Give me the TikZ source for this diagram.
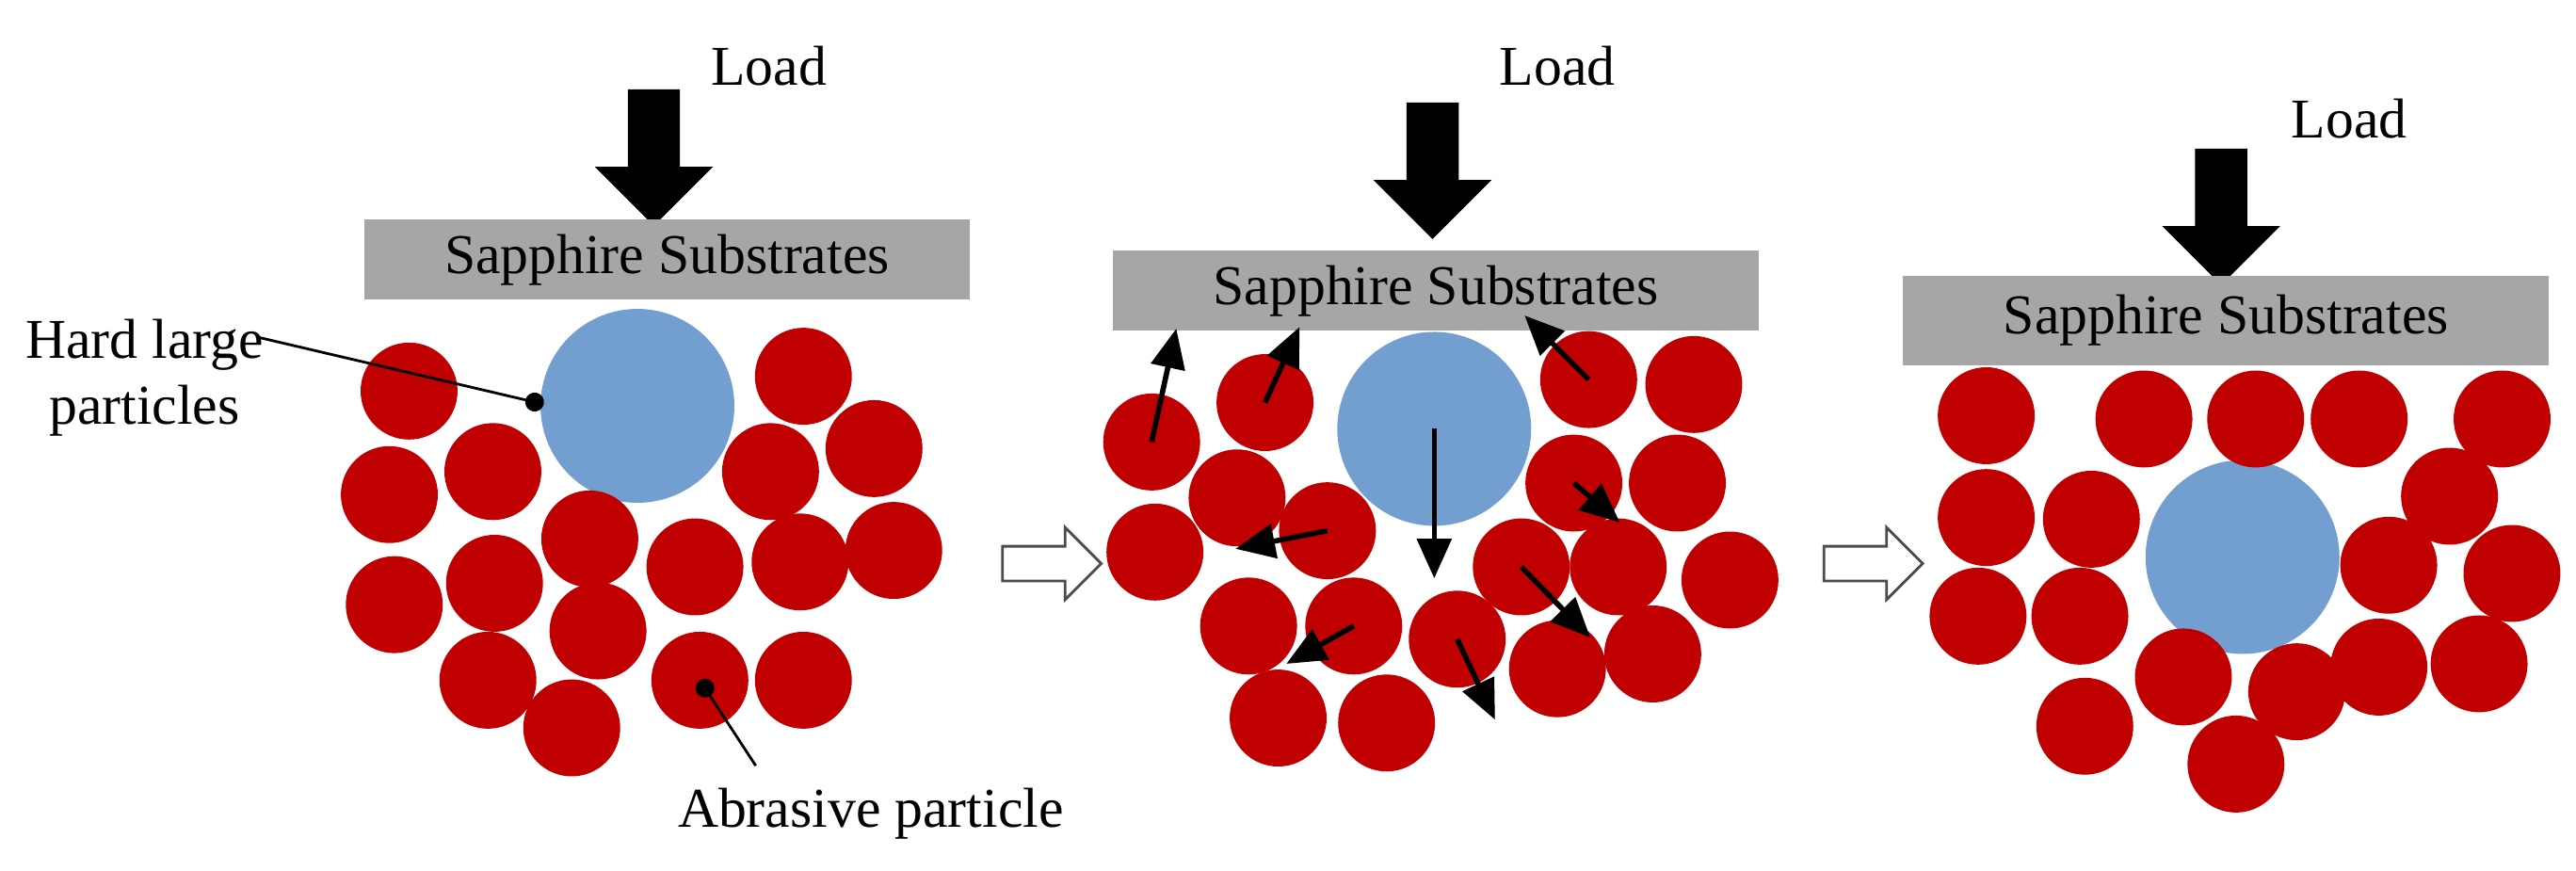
\documentclass[tikz,border=0pt]{standalone}
\usepackage{fontspec}
\setmainfont{Liberation Serif}
\usetikzlibrary{shapes.arrows,arrows.meta}
\begin{document}
\begin{tikzpicture}[x=0.01745cm,y=-0.01745cm]
\tikzstyle{abrasive}=[circle,fill=partred,minimum size=1.03cm,inner sep=0pt]
\tikzstyle{hard}=[circle,fill=partblue,minimum size=2.06cm,inner sep=0pt]
\tikzstyle{substrate}=[fill=boxgray,inner sep=0pt,font=\fontsize{17}{20}\selectfont]
\tikzstyle{load}=[single arrow,fill=black,shape border rotate=270,minimum width=1.22cm,single arrow head extend=0.35cm,minimum height=1.45cm,inner xsep=0.27cm,inner ysep=0pt]
\tikzstyle{stage}=[single arrow,draw=black!70,thick,fill=white,minimum width=0.75cm,single arrow head extend=0.2cm,minimum height=1.05cm,inner xsep=0pt,inner ysep=0.17cm]
\tikzstyle{label}=[font=\fontsize{17}{20}\selectfont,inner sep=0pt]
\tikzstyle{move}=[line width=1.6pt,-{Triangle[length=0.42cm,width=0.36cm]}]
\tikzstyle{pointer}=[thick,{Circle[length=0.2cm]}-]
\definecolor{partred}{RGB}{192,0,0}
\definecolor{partblue}{RGB}{114,159,207}
\definecolor{boxgray}{RGB}{166,166,166}
\useasboundingbox (0,0) rectangle (1568,530);
% panel 1
\node[load] (load1) at (398,88) {};
\node[label] (loadtext1) at (468,40) {Load};
\node[substrate,minimum width=368*0.01745cm,minimum height=0.85cm] (sub1) at (406,158) {Sapphire Substrates};
\node[hard] (big1) at (388,247) {};
\foreach \n/\x/\y in {1/249/238,2/237/301,3/300/287,4/359/328,5/240/368,6/301/355,7/364/384,8/297/414,9/348/443,10/423/345,11/426/414,12/489/414,13/487/342,14/544/335,15/469/287,16/532/273,17/489/229}
  \node[abrasive] (p1\n) at (\x,\y) {};
\node[label,align=center] (hardtext) at (88,230) {Hard large\\particles};
\node[label] (abrtext) at (530,495) {Abrasive particle};
\coordinate (hardend) at (156,205);
\coordinate (hardtip) at (331,246);
\coordinate (abrend) at (460,466);
\draw[pointer] (hardtip) -- (hardend);
\draw[pointer] (p111.center) -- (abrend);
\node[stage] (stage1) at (635,343) {};
% panel 2
\node[load] (load2) at (872,96) {};
\node[label] (loadtext2) at (948,40) {Load};
\node[substrate,minimum width=393*0.01745cm,minimum height=0.85cm] (sub2) at (874,177) {Sapphire Substrates};
\node[hard] (big2) at (873,261) {};
\foreach \n/\x/\y in {1/701/269,2/770/245,3/967/231,4/1031/234,5/753/303,6/808/323,7/703/336,8/958/294,9/1021/294,10/926/345,11/985/345,12/1053/353,13/760/381,14/824/381,15/887/389,16/948/407,17/1006/398,18/778/437,19/844/440}
  \node[abrasive] (p2\n) at (\x,\y) {};
\coordinate (m1) at (716,200);
\coordinate (m2) at (791,199);
\coordinate (m3) at (928,192);
\coordinate (m4) at (873,352);
\coordinate (m5) at (752,334);
\coordinate (m6) at (986,318);
\coordinate (m7) at (968,388);
\coordinate (m8) at (783,404);
\coordinate (m9) at (910,438);
\draw[move] (p21.center) -- (m1);
\draw[move] (p22.center) -- (m2);
\draw[move] (p23.center) -- (m3);
\draw[move] (big2.center) -- (m4);
\draw[move] (p26.center) -- (m5);
\draw[move] (p28.center) -- (m6);
\draw[move] (p210.center) -- (m7);
\draw[move] (p214.center) -- (m8);
\draw[move] (p215.center) -- (m9);
\node[stage] (stage2) at (1135,343) {};
% panel 3
\node[load] (load3) at (1352,124) {};
\node[label] (loadtext3) at (1430,72) {Load};
\node[substrate,minimum width=393*0.01745cm,minimum height=0.95cm] (sub3) at (1355,195) {Sapphire Substrates};
\node[hard] (big3) at (1365,339) {};
\foreach \n/\x/\y in {1/1209/253,2/1305/255,3/1373/255,4/1436/255,5/1523/255,6/1209/315,7/1273/316,8/1491/302,9/1454/344,10/1529/349,11/1204/375,12/1266/375,13/1329/412,14/1398/421,15/1448/406,16/1509/404,17/1269/442,18/1361/465}
  \node[abrasive] (p3\n) at (\x,\y) {};
\end{tikzpicture}
\end{document}
